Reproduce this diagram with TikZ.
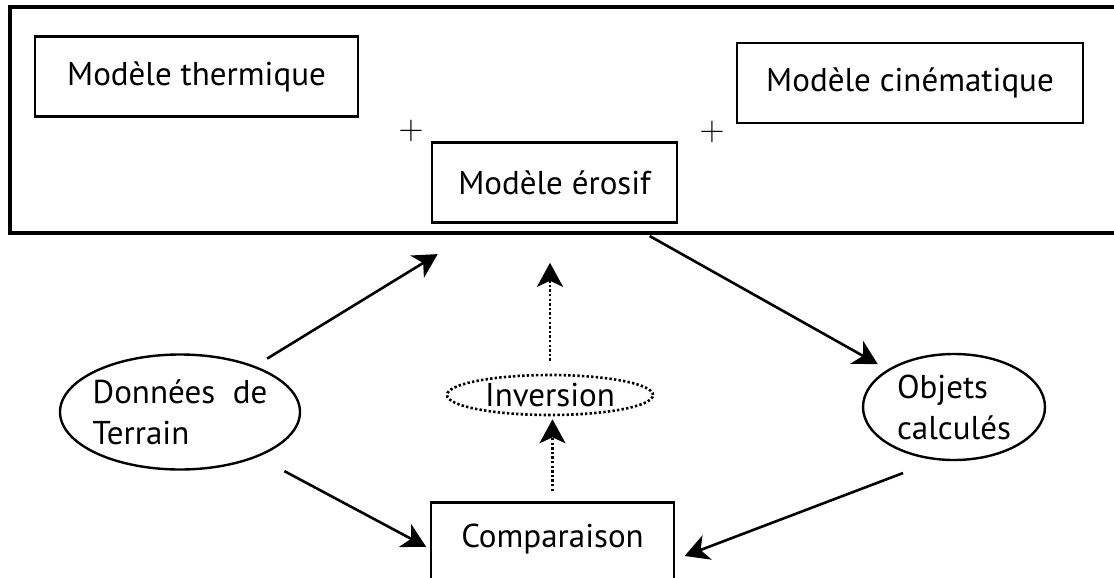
\documentclass[tikz,border=0pt]{standalone}
\usepackage{fontspec}
\setmainfont{PT Sans}
\usetikzlibrary{arrows.meta, shapes.geometric}

\begin{document}
\begin{tikzpicture}[x=0.5pt, y=-0.5pt,
    every node/.style={font=\fontsize{16.5}{20.5}\selectfont},
    model/.style={draw, line width=1.3pt, minimum height=40pt, inner sep=0pt},
    blob/.style={draw, ellipse, line width=1.2pt, inner sep=0pt, align=left},
    plus/.style={font=\fontsize{17}{17}\selectfont},
    dots/.style={line width=1.3pt, dash pattern=on 1.2pt off 1.1pt},
    arr/.style={line width=1.3pt, -{Stealth[length=12pt, width=13pt, inset=3.5pt]}},
    dotarr/.style={dots, -{Stealth[length=12pt, width=13pt, inset=3pt]}}]
    \useasboundingbox (0,0) rectangle (1114,578);

    % Frame around the three models
    \draw[line width=1.6pt] (10,7) rectangle (1130,233);

    % Models
    \node[model, minimum width=161.5pt] (thermique) at (196.5,76.5) {Modèle thermique};
    \node[plus] (plusA) at (411,131) {$+$};
    \node[model, minimum width=122.5pt] (erosif) at (554.5,182.5) {Modèle érosif};
    \node[plus] (plusB) at (712,132) {$+$};
    \node[model, minimum width=173pt] (cinematique) at (910,83) {Modèle cinématique};

    % Data, inversion and results
    \node[blob, minimum width=120pt, minimum height=57.5pt, inner xsep=-8pt] (donnees) at (180,412) {Données\ \ de\\Terrain};
    \node[blob, dots, minimum width=103pt, minimum height=20pt, inner ysep=-2pt] (inversion) at (550,395) {Inversion};
    \node[blob, minimum width=91pt, minimum height=53pt] (objets) at (954,407) {Objets\\calculés};
    \node[model, minimum width=121.5pt, anchor=north, text height=22.5pt, text depth=17pt] (comparaison) at (552.5,501) {Comparaison};

    % Connectors
    \draw[arr, shorten <=7pt, shorten >=29pt] (donnees) -- (erosif);
    \draw[arr, shorten <=12.5pt, shorten >=5.5pt] (erosif) -- (objets);
    \draw[arr, shorten <=15pt, shorten >=2pt] (donnees.-30) -- (comparaison.183);
    \draw[arr, shorten <=18pt, shorten >=5pt] (objets.-108) -- (comparaison.-8);
    \draw[dotarr, shorten <=6.5pt, shorten >=19.5pt] (inversion.north) -- (inversion.north |- erosif.south);
    \draw[dotarr, shorten <=5pt, shorten >=1.5pt] (comparaison.north) -- (comparaison.north |- inversion.south);

\end{tikzpicture}
\end{document}
